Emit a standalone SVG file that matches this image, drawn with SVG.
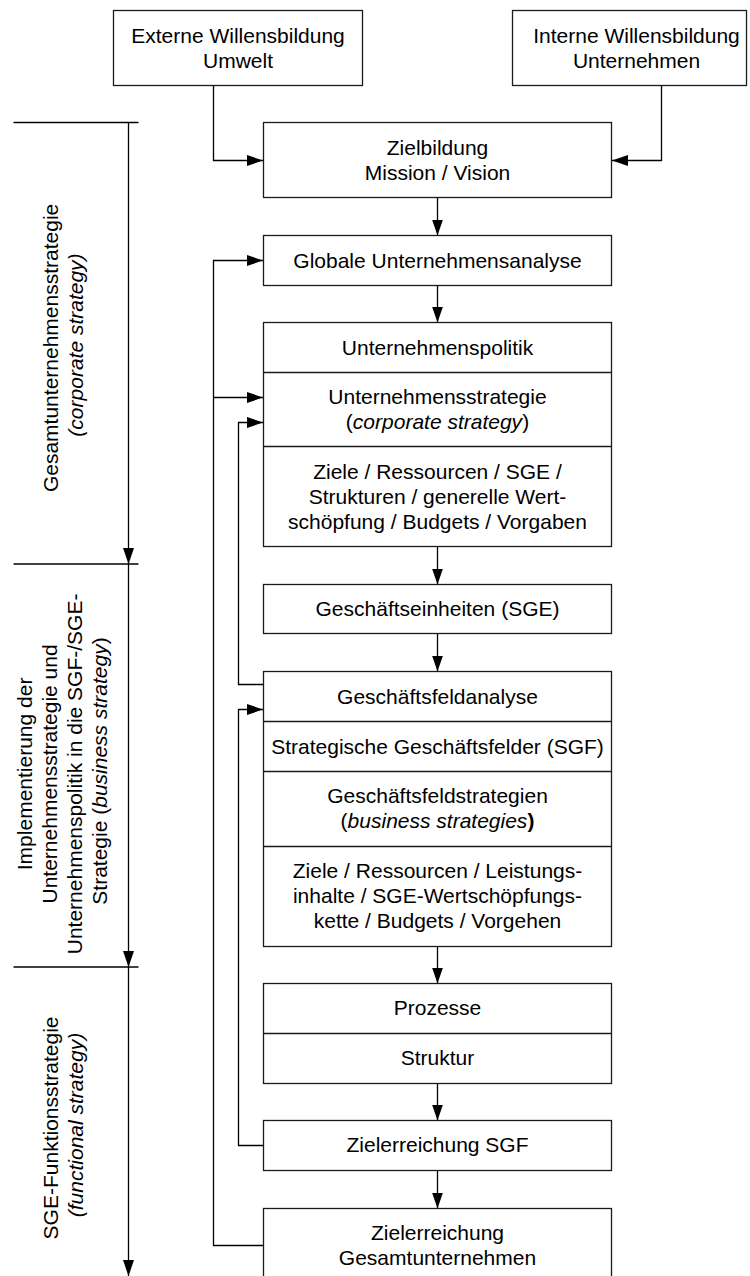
<svg xmlns="http://www.w3.org/2000/svg" width="750" height="1276" viewBox="0 0 750 1276">
  <defs>
    <marker id="arrow" markerUnits="userSpaceOnUse" markerWidth="16" markerHeight="12" refX="16" refY="5.5" orient="auto">
      <path d="M0,0 L16,5.5 L0,11 Z" fill="#000"/>
    </marker>
    <style>
      .box { fill: #fff; stroke: #1a1a1a; stroke-width: 1.3; }
      .div { stroke: #1a1a1a; stroke-width: 1.3; fill: none; }
      .line { stroke: #000; stroke-width: 1.3; fill: none; }
      .arr { stroke: #000; stroke-width: 1.3; fill: none; marker-end: url(#arrow); }
      text { font-family: "Liberation Sans", Arial, sans-serif; font-size: 21px; fill: #000; }
      .c { text-anchor: middle; }
      .i { font-style: italic; }
    </style>
  </defs>

  <rect width="750" height="1276" fill="#fff"/>

  <!-- phase bracket on the left -->
  <g id="phases">
    <line class="line" x1="13.5" y1="122.5" x2="138.5" y2="122.5"/>
    <line class="line" x1="13.5" y1="564" x2="138.5" y2="564"/>
    <line class="line" x1="13.5" y1="967" x2="138.5" y2="967"/>
    <line class="arr" x1="128.5" y1="122.5" x2="128.5" y2="564"/>
    <line class="arr" x1="128.5" y1="564" x2="128.5" y2="967"/>
    <line class="arr" x1="128.5" y1="967" x2="128.5" y2="1276"/>

    <text class="c" transform="translate(58,345) rotate(-90)">
      <tspan x="0" y="0">Gesamtunternehmensstrategie</tspan>
      <tspan x="0" y="25" class="i">(corporate strategy)</tspan>
    </text>
    <text class="c" transform="translate(32,771) rotate(-90)">
      <tspan x="0" y="0">Implementierung der</tspan>
      <tspan x="0" y="25">Unternehmensstrategie und</tspan>
      <tspan x="0" y="50">Unternehmenspolitik in die SGF-/SGE-</tspan>
      <tspan x="0" y="75">Strategie (<tspan class="i">business strategy</tspan>)</tspan>
    </text>
    <text class="c" transform="translate(58,1125) rotate(-90)">
      <tspan x="0" y="0">SGE-Funktionsstrategie</tspan>
      <tspan x="0" y="25" class="i">(functional strategy)</tspan>
    </text>
  </g>

  <!-- connectors -->
  <g id="connectors">
    <path class="arr" d="M213.5,85.5 V160.5 H263"/>
    <path class="arr" d="M661.5,85.5 V160.5 H612"/>
    <line class="arr" x1="437.5" y1="197.5" x2="437.5" y2="235.5"/>
    <line class="arr" x1="437.5" y1="285.5" x2="437.5" y2="322.5"/>
    <line class="arr" x1="437.5" y1="546.5" x2="437.5" y2="584.5"/>
    <line class="arr" x1="437.5" y1="633.5" x2="437.5" y2="671.5"/>
    <line class="arr" x1="437.5" y1="946.5" x2="437.5" y2="983.5"/>
    <line class="arr" x1="437.5" y1="1083.5" x2="437.5" y2="1120.5"/>
    <line class="arr" x1="437.5" y1="1170.5" x2="437.5" y2="1208.5"/>
    <!-- feedback from overall goal attainment -->
    <path class="arr" d="M263.5,1245.5 H213.5 V260.5 H263"/>
    <path class="arr" d="M213.5,397.5 H263"/>
    <!-- feedback from business field analysis -->
    <path class="arr" d="M263.5,684.5 H238.5 V422.5 H263"/>
    <!-- feedback from SGF goal attainment -->
    <path class="arr" d="M263.5,1145.5 H238.5 V709.5 H263"/>
  </g>

  <g id="externe">
    <rect class="box" x="113.5" y="10.5" width="249" height="75"/>
    <text class="c" x="238" y="42.5">Externe Willensbildung</text>
    <text class="c" x="238" y="67.5">Umwelt</text>
  </g>

  <g id="interne">
    <rect class="box" x="512.5" y="10.5" width="234" height="75"/>
    <text class="c" x="636.5" y="42.5">Interne Willensbildung</text>
    <text class="c" x="636.5" y="67.5">Unternehmen</text>
  </g>

  <g id="zielbildung">
    <rect class="box" x="263.5" y="122.5" width="348" height="75"/>
    <text class="c" x="437.5" y="154.5">Zielbildung</text>
    <text class="c" x="437.5" y="179.5">Mission / Vision</text>
  </g>

  <g id="globale-analyse">
    <rect class="box" x="263.5" y="235.5" width="348" height="50"/>
    <text class="c" x="437.5" y="267.5">Globale Unternehmensanalyse</text>
  </g>

  <g id="unternehmenspolitik">
    <rect class="box" x="263.5" y="322.5" width="348" height="224"/>
    <line class="div" x1="263.5" y1="372.5" x2="611.5" y2="372.5"/>
    <line class="div" x1="263.5" y1="446.5" x2="611.5" y2="446.5"/>
    <text class="c" x="437.5" y="354.5">Unternehmenspolitik</text>
    <text class="c" x="437.5" y="404">Unternehmensstrategie</text>
    <text class="c" x="437.5" y="429">(<tspan class="i">corporate strategy</tspan>)</text>
    <text class="c" x="437.5" y="478.5">Ziele / Ressourcen / SGE /</text>
    <text class="c" x="437.5" y="503.5">Strukturen / generelle Wert-</text>
    <text class="c" x="437.5" y="528.5">schöpfung / Budgets / Vorgaben</text>
  </g>

  <g id="geschaeftseinheiten">
    <rect class="box" x="263.5" y="584.5" width="348" height="49"/>
    <text class="c" x="437.5" y="616">Geschäftseinheiten (SGE)</text>
  </g>

  <g id="geschaeftsfelder">
    <rect class="box" x="263.5" y="671.5" width="348" height="275"/>
    <line class="div" x1="263.5" y1="721.5" x2="611.5" y2="721.5"/>
    <line class="div" x1="263.5" y1="771.5" x2="611.5" y2="771.5"/>
    <line class="div" x1="263.5" y1="846.5" x2="611.5" y2="846.5"/>
    <text class="c" x="437.5" y="703.5">Geschäftsfeldanalyse</text>
    <text class="c" x="437.5" y="753.5">Strategische Geschäftsfelder (SGF)</text>
    <text class="c" x="437.5" y="803">Geschäftsfeldstrategien</text>
    <text class="c" x="437.5" y="828">(<tspan class="i">business strategies</tspan><tspan font-weight="bold">)</tspan></text>
    <text class="c" x="437.5" y="877.5">Ziele / Ressourcen / Leistungs-</text>
    <text class="c" x="437.5" y="902.5">inhalte / SGE-Wertschöpfungs-</text>
    <text class="c" x="437.5" y="927.5">kette / Budgets / Vorgehen</text>
  </g>

  <g id="prozesse-struktur">
    <rect class="box" x="263.5" y="983.5" width="348" height="100"/>
    <line class="div" x1="263.5" y1="1033.5" x2="611.5" y2="1033.5"/>
    <text class="c" x="437.5" y="1014.5">Prozesse</text>
    <text class="c" x="437.5" y="1064.5">Struktur</text>
  </g>

  <g id="zielerreichung-sgf">
    <rect class="box" x="263.5" y="1120.5" width="348" height="50"/>
    <text class="c" x="437.5" y="1152">Zielerreichung SGF</text>
  </g>

  <g id="zielerreichung-gesamt">
    <rect class="box" x="263.5" y="1208.5" width="348" height="75"/>
    <text class="c" x="437.5" y="1240">Zielerreichung</text>
    <text class="c" x="437.5" y="1265">Gesamtunternehmen</text>
  </g>
</svg>
